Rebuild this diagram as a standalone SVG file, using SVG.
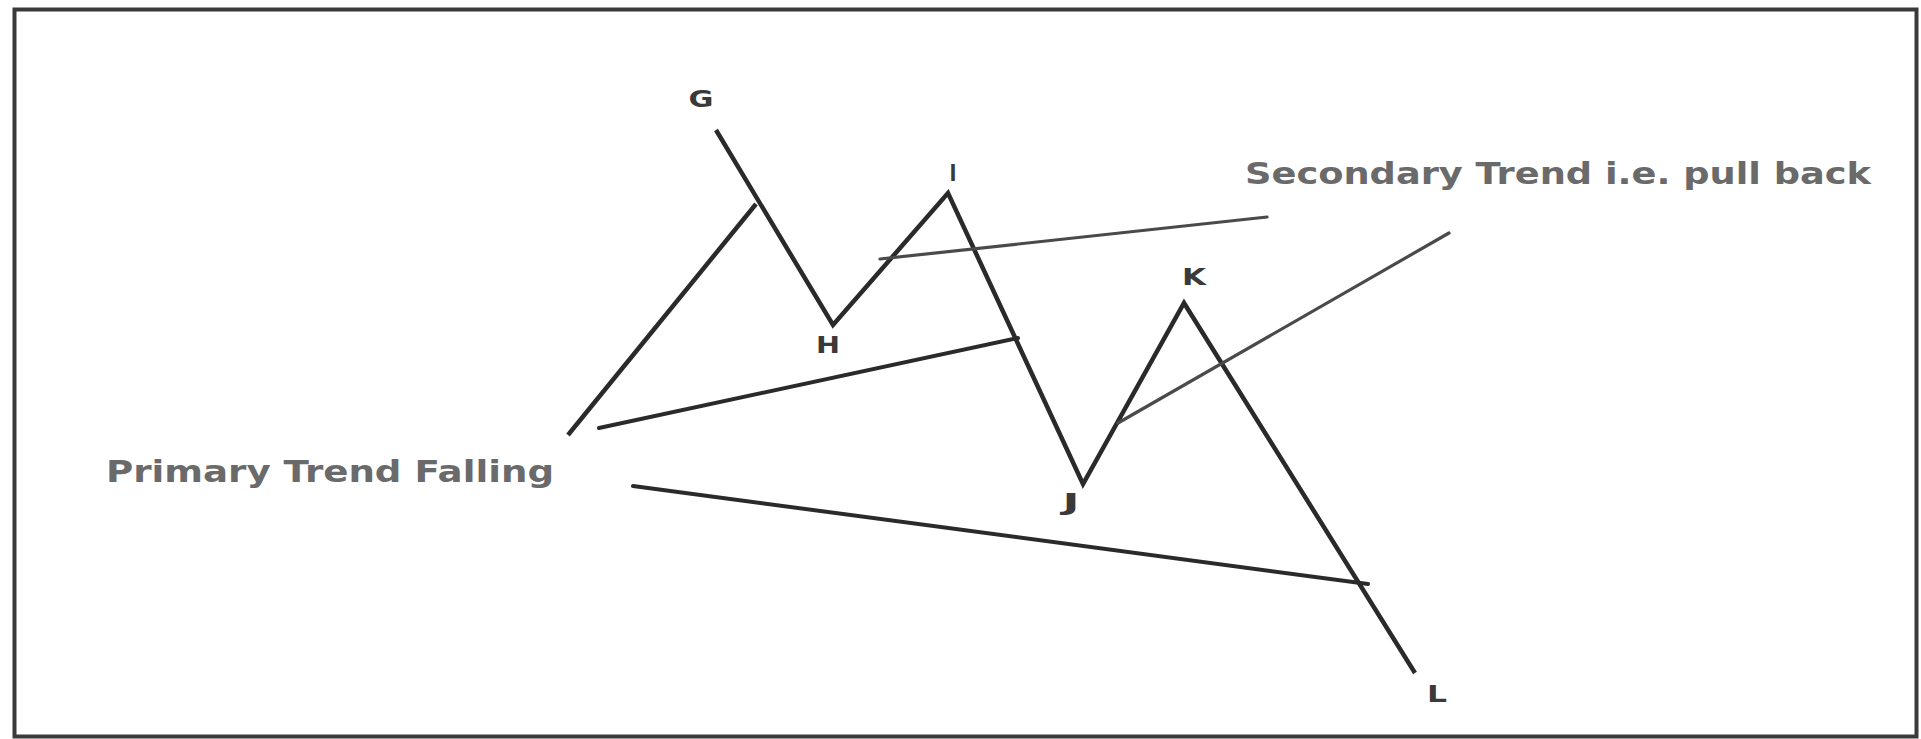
<svg xmlns="http://www.w3.org/2000/svg" width="1921" height="739" viewBox="0 0 1921 739">
<style>
.bg{fill:#fff}
.frame{fill:none;stroke:#3a3a3a;stroke-width:4}
.wave{fill:none;stroke:#2a2a2a;stroke-width:4.5;stroke-linejoin:miter;stroke-linecap:butt}
.prim{fill:none;stroke:#2a2a2a;stroke-width:4;stroke-linecap:round}
.sec{fill:none;stroke:#4a4a4a;stroke-width:3.2;stroke-linecap:round}
.pt{font-family:"DejaVu Sans",sans-serif;font-weight:bold;fill:#3a3a3a;font-size:23px;text-anchor:middle}
.cap{font-family:"DejaVu Sans",sans-serif;font-weight:bold;fill:#6a6a6a;font-size:30px}
</style>
<rect class="bg" x="0" y="0" width="1921" height="739"/>
<rect class="frame" x="14.5" y="9.5" width="1902" height="727"/>
<g id="connectors">
<path id="wave" class="wave" d="M716,130 L833,325 L948,193 L1083,484 L1184,303 L1415,673"/>
<line id="upleg" class="wave" x1="568" y1="435" x2="756" y2="204"/>
<line id="primary1" class="prim" x1="599" y1="428" x2="1018" y2="338"/>
<line id="primary2" class="prim" x1="633" y1="486" x2="1368" y2="584"/>
<line id="secondary1" class="sec" x1="880" y1="259" x2="1267" y2="217"/>
<line id="secondary2" class="sec" x1="1118" y1="423" x2="1449" y2="233"/>
</g>
<g id="G"><text class="pt" x="701" y="107" textLength="25" lengthAdjust="spacingAndGlyphs">G</text></g>
<g id="H"><text class="pt" x="828" y="353" textLength="24" lengthAdjust="spacingAndGlyphs">H</text></g>
<g id="I"><text class="pt" x="953" y="181" textLength="7" lengthAdjust="spacingAndGlyphs">I</text></g>
<g id="J"><text class="pt" x="1071" y="510" textLength="17" lengthAdjust="spacingAndGlyphs">J</text></g>
<g id="K"><text class="pt" x="1194" y="285" textLength="24" lengthAdjust="spacingAndGlyphs">K</text></g>
<g id="L"><text class="pt" x="1437" y="702" textLength="20" lengthAdjust="spacingAndGlyphs">L</text></g>
<g id="primary-label"><text class="cap" x="106" y="482" textLength="448" lengthAdjust="spacingAndGlyphs">Primary Trend Falling</text></g>
<g id="secondary-label"><text class="cap" x="1245" y="184" textLength="626" lengthAdjust="spacingAndGlyphs">Secondary Trend i.e. pull back</text></g>
</svg>
